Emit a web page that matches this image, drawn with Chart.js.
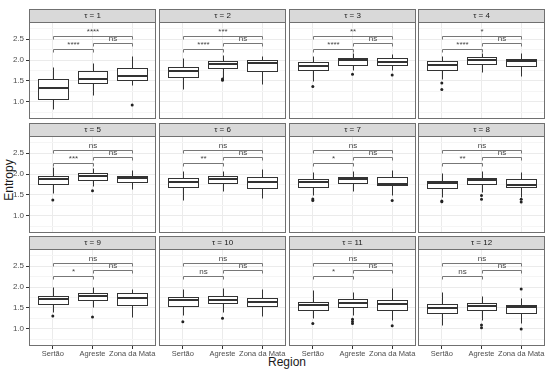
<!DOCTYPE html>
<html>
<head>
<meta charset="utf-8">
<script src="https://cdn.jsdelivr.net/npm/chart.js@4"></script>
<style>
  body { margin: 0; background: #fff; }
  #wrap { position: relative; width: 550px; height: 371px; overflow: hidden; font-family: "Liberation Sans", Arial, sans-serif; }
  #wrap canvas { position: absolute; }
  .axis-title { position: absolute; font-size: 12px; color: #1a1a1a; white-space: nowrap; }
</style>
</head>
<body>
<div id="wrap">
  <div class="axis-title" id="ytitle">Entropy</div>
  <div class="axis-title" id="xtitle">Region</div>
</div>
<script>
/* faceted boxplots - entropy by region for tau = 1..12 */

// --- DATA ---
const regions = ['Sertão', 'Agreste', 'Zona da Mata'];
const stripLabels = ['τ = 1', 'τ = 2', 'τ = 3', 'τ = 4', 'τ = 5', 'τ = 6',
                     'τ = 7', 'τ = 8', 'τ = 9', 'τ = 10', 'τ = 11', 'τ = 12'];
const yTickValues = [1.0, 1.5, 2.0, 2.5];
const yGridValues = [0.75, 1.0, 1.25, 1.5, 1.75, 2.0, 2.25, 2.5, 2.75];

// one row per tau, one column per region
const whiskerLow = [
  [0.83, 1.17, 1.41], [1.30, 1.58, 1.43], [1.49, 1.76, 1.75], [1.54, 1.72, 1.62],
  [1.54, 1.715, 1.64], [1.38, 1.60, 1.42], [1.50, 1.60, 1.49], [1.45, 1.56, 1.46],
  [1.41, 1.53, 1.29], [1.335, 1.40, 1.31], [1.255, 1.335, 1.215], [1.095, 1.215, 1.135]
];
const q1 = [
  [1.08, 1.445, 1.525], [1.60, 1.81, 1.74], [1.75, 1.89, 1.88], [1.76, 1.90, 1.86],
  [1.755, 1.86, 1.80], [1.68, 1.78, 1.66], [1.70, 1.78, 1.73], [1.66, 1.76, 1.70],
  [1.595, 1.69, 1.57], [1.555, 1.61, 1.54], [1.46, 1.53, 1.45], [1.375, 1.45, 1.375]
];
const medians = [
  [1.33, 1.555, 1.62], [1.74, 1.905, 1.92], [1.86, 1.99, 1.95], [1.88, 1.99, 1.97],
  [1.87, 1.96, 1.91], [1.80, 1.89, 1.82], [1.81, 1.89, 1.76], [1.78, 1.85, 1.74],
  [1.715, 1.78, 1.745], [1.68, 1.69, 1.65], [1.565, 1.62, 1.595], [1.49, 1.555, 1.53]
];
const q3 = [
  [1.54, 1.74, 1.80], [1.84, 1.97, 2.00], [1.95, 2.04, 2.04], [1.97, 2.07, 2.03],
  [1.95, 2.02, 1.96], [1.91, 1.96, 1.94], [1.89, 1.94, 1.94], [1.84, 1.90, 1.87],
  [1.79, 1.85, 1.85], [1.77, 1.78, 1.745], [1.65, 1.71, 1.70], [1.60, 1.63, 1.57]
];
const whiskerHigh = [
  [1.84, 1.94, 2.10], [2.04, 2.12, 2.10], [2.09, 2.16, 2.14], [2.10, 2.16, 2.16],
  [2.17, 2.135, 2.10], [2.08, 2.08, 2.13], [2.04, 2.08, 2.10], [2.02, 2.06, 2.04],
  [2.01, 2.01, 1.945], [1.95, 1.97, 1.95], [1.93, 1.875, 1.97], [1.89, 1.785, 1.745]
];
const outliers = [
  [[], [], [0.93]], [[], [1.55, 1.52], []], [[1.37], [1.66], [1.64]], [[1.45, 1.30], [], []],
  [[1.38], [1.60], []], [[], [], []], [[1.405, 1.37], [], [1.37]], [[1.36, 1.34], [1.49, 1.40], [1.40, 1.335]],
  [[1.31], [1.285], []], [[1.175], [1.255], []], [[1.13], [1.23, 1.18, 1.13], [1.08]], [[], [1.095, 1.03], [1.95, 1.0]]
];

// significance labels: Sertão-Agreste, Agreste-Zona da Mata, Sertão-Zona da Mata
const sigSA = ['****', '****', '****', '****', '***', '**', '*', '**', '*', 'ns', '*', 'ns'];
const sigAZ = ['ns', 'ns', 'ns', 'ns', 'ns', 'ns', 'ns', 'ns', 'ns', 'ns', 'ns', 'ns'];
const sigSZ = ['****', '***', '**', '*', 'ns', 'ns', 'ns', 'ns', 'ns', 'ns', 'ns', 'ns'];

// --- LAYOUT ---
const FONT = '"Liberation Sans", Arial, sans-serif';
const colLeft = [29, 159, 289, 418];
const stripTop = [9, 123, 236];
const PANEL_W = 127, PANEL_H = 97, STRIP_H = 13;
const Y_AXIS_W = 29, X_AXIS_H = 16, LABEL_OVERHANG = 8;
const BORDER = '#707070';

const boxPlugin = {
  id: 'boxes',
  beforeDraw(chart) {
    const { ctx, chartArea: a } = chart;
    const p = chart.options.plugins.boxes;
    ctx.save();
    ctx.fillStyle = '#d9d9d9';
    ctx.fillRect(a.left, 0, a.right - a.left, a.top);
    ctx.strokeStyle = BORDER;
    ctx.lineWidth = 1;
    ctx.strokeRect(a.left + 0.5, 0.5, a.right - a.left - 1, a.top);
    ctx.fillStyle = '#1a1a1a';
    ctx.font = '8px ' + FONT;
    ctx.textAlign = 'center';
    ctx.textBaseline = 'middle';
    ctx.fillText(stripLabels[p.panel], (a.left + a.right) / 2, a.top / 2 + 0.5);
    ctx.restore();
  },
  beforeDatasetsDraw(chart) {
    const { ctx } = chart;
    const x = chart.scales.x, y = chart.scales.y;
    const k = chart.options.plugins.boxes.panel;
    const px = (v) => Math.round(v) + 0.5;
    ctx.save();
    ctx.strokeStyle = '#333';
    ctx.lineWidth = 1;
    for (let i = 0; i < regions.length; i++) {
      const xc = px(x.getPixelForValue(i + 1));
      const xl = px(x.getPixelForValue(i + 1 - 0.375));
      const xr = px(x.getPixelForValue(i + 1 + 0.375));
      const yLo = px(y.getPixelForValue(whiskerLow[k][i]));
      const yQ1 = px(y.getPixelForValue(q1[k][i]));
      const yMd = Math.round(y.getPixelForValue(medians[k][i]));
      const yQ3 = px(y.getPixelForValue(q3[k][i]));
      const yHi = px(y.getPixelForValue(whiskerHigh[k][i]));
      ctx.beginPath();
      ctx.moveTo(xc, yHi); ctx.lineTo(xc, yQ3);
      ctx.moveTo(xc, yQ1); ctx.lineTo(xc, yLo);
      ctx.stroke();
      ctx.fillStyle = '#fff';
      ctx.fillRect(xl, yQ3, xr - xl, yQ1 - yQ3);
      ctx.strokeRect(xl, yQ3, xr - xl, yQ1 - yQ3);
      ctx.lineWidth = 2;
      ctx.beginPath();
      ctx.moveTo(xl, yMd); ctx.lineTo(xr, yMd);
      ctx.stroke();
      ctx.lineWidth = 1;
    }
    ctx.restore();
  },
  afterDraw(chart) {
    const { ctx, chartArea: a } = chart;
    const x = chart.scales.x, y = chart.scales.y;
    const k = chart.options.plugins.boxes.panel;
    const px = (v) => Math.round(v) + 0.5;
    const brackets = [
      [1, 2, 2.26, sigSA[k]],
      [2, 3, 2.405, sigAZ[k]],
      [1, 3, 2.57, sigSZ[k]]
    ];
    ctx.save();
    ctx.strokeStyle = '#777';
    ctx.lineWidth = 1;
    ctx.font = '8px ' + FONT;
    ctx.textAlign = 'center';
    ctx.textBaseline = 'bottom';
    brackets.forEach(([i1, i2, lvl, lab]) => {
      const x1 = px(x.getPixelForValue(i1)), x2 = px(x.getPixelForValue(i2));
      const yb = px(y.getPixelForValue(lvl));
      const yt = px(y.getPixelForValue(lvl - 0.07));
      ctx.beginPath();
      ctx.moveTo(x1, yt); ctx.lineTo(x1, yb); ctx.lineTo(x2, yb); ctx.lineTo(x2, yt);
      ctx.stroke();
      ctx.fillStyle = '#444';
      ctx.fillText(lab, (x1 + x2) / 2, yb - 1);
    });
    // panel border
    ctx.strokeStyle = BORDER;
    ctx.strokeRect(a.left + 0.5, a.top + 0.5, a.right - a.left - 1, a.bottom - a.top - 1);
    ctx.restore();
  }
};

function makePanel(k) {
  const row = Math.floor(k / 4), col = k % 4;
  const leftAxis = col === 0, bottomAxis = row === 2;
  const extraRight = bottomAxis ? LABEL_OVERHANG : 0;
  const canvas = document.createElement('canvas');
  const w = PANEL_W + (leftAxis ? Y_AXIS_W : 0) + extraRight;
  const h = STRIP_H + PANEL_H + (bottomAxis ? X_AXIS_H : 0);
  canvas.width = w; canvas.height = h;
  canvas.style.width = w + 'px'; canvas.style.height = h + 'px';
  canvas.style.left = (colLeft[col] - (leftAxis ? Y_AXIS_W : 0)) + 'px';
  canvas.style.top = stripTop[row] + 'px';
  document.getElementById('wrap').appendChild(canvas);

  const points = [];
  outliers[k].forEach((list, i) => list.forEach(v => points.push({ x: i + 1, y: v })));

  new Chart(canvas, {
    type: 'scatter',
    data: {
      datasets: [{
        data: points,
        pointRadius: 1.5,
        pointBackgroundColor: '#222',
        pointBorderWidth: 0
      }]
    },
    options: {
      responsive: false,
      devicePixelRatio: 1,
      animation: false,
      events: [],
      layout: { autoPadding: false, padding: { top: STRIP_H, left: 0, right: extraRight, bottom: 0 } },
      plugins: {
        legend: { display: false },
        tooltip: { enabled: false },
        boxes: { panel: k }
      },
      scales: {
        x: {
          type: 'linear',
          min: 0.4,
          max: 3.6,
          border: { display: false },
          afterBuildTicks: (s) => { s.ticks = regions.map((r, i) => ({ value: i + 1 })); },
          afterFit: (s) => { s.height = bottomAxis ? X_AXIS_H : 0; s.paddingLeft = 0; s.paddingRight = 0; },
          grid: { color: '#ebebeb', drawTicks: bottomAxis, tickLength: 3, tickColor: '#333' },
          ticks: {
            display: bottomAxis,
            autoSkip: false,
            maxRotation: 0,
            padding: 0,
            color: '#4d4d4d',
            font: { family: FONT, size: 7.5 },
            callback: (v) => regions[v - 1]
          }
        },
        y: {
          min: 0.595,
          max: 2.905,
          border: { display: false },
          afterBuildTicks: (s) => { s.ticks = yGridValues.map(v => ({ value: v })); },
          afterFit: (s) => { s.width = leftAxis ? Y_AXIS_W : 0; s.paddingTop = 0; s.paddingBottom = 0; },
          grid: {
            color: (c) => yTickValues.includes(c.tick.value) ? '#ebebeb' : '#f5f5f5',
            drawTicks: leftAxis,
            tickLength: 3,
            tickColor: (c) => yTickValues.includes(c.tick.value) ? '#333' : 'rgba(0,0,0,0)'
          },
          ticks: {
            display: leftAxis,
            autoSkip: false,
            padding: 2,
            color: '#4d4d4d',
            font: { family: FONT, size: 8 },
            callback: (v) => yTickValues.includes(v) ? v.toFixed(1) : ''
          }
        }
      }
    },
    plugins: [boxPlugin]
  });
}

for (let k = 0; k < 12; k++) makePanel(k);

// axis titles
const yt = document.getElementById('ytitle');
yt.style.left = '9px';
yt.style.top = '180px';
yt.style.transform = 'translate(-50%, -50%) rotate(-90deg)';
const xt = document.getElementById('xtitle');
xt.style.left = '287px';
xt.style.top = '362px';
xt.style.transform = 'translate(-50%, -50%)';
</script>
</body>
</html>
